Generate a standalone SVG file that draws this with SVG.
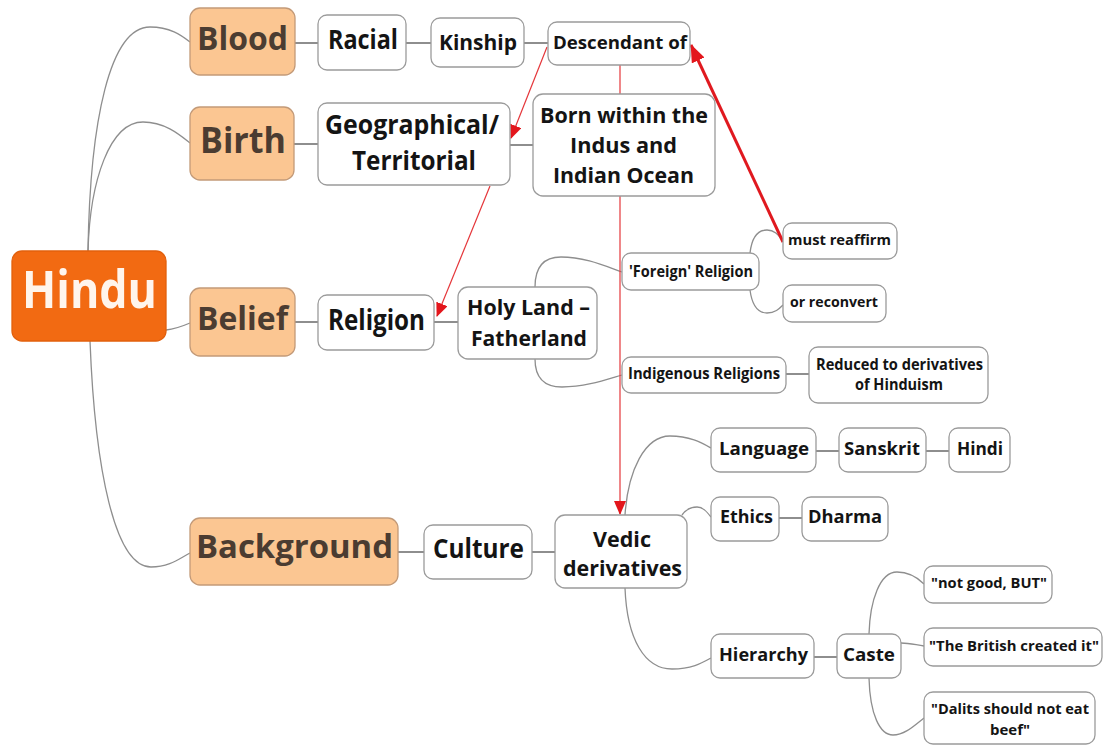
<svg xmlns="http://www.w3.org/2000/svg" width="1104" height="746" viewBox="0 0 1104 746">
<style>
text{font-family:"Open Sans","Noto Sans","Liberation Sans",sans-serif;font-weight:bold;text-anchor:middle}
.n rect{fill:#ffffff;stroke:#9b9b9b;stroke-width:1.3}
.n text{fill:#141414}
.m rect{fill:#fbc692;stroke:#c39a78;stroke-width:1.3}
.m text{fill:#4b3c31}
.c path{fill:none;stroke:#8e8e8e;stroke-width:1.3}
.c line{stroke:#8e8e8e;stroke-width:2}
.c line.r{fill:none;stroke:#e5363a;stroke-width:1.2}
.c line.rt{fill:none;stroke:#e0191f;stroke-width:3}
</style>
<defs>
<marker id="ah" markerUnits="userSpaceOnUse" markerWidth="14" markerHeight="12" refX="13" refY="6" orient="auto"><path d="M0,0 L14,6 L0,12 Z" fill="#e3161c"/></marker>
<marker id="ahb" markerUnits="userSpaceOnUse" markerWidth="18" markerHeight="14" refX="17" refY="7" orient="auto"><path d="M0,0 L18,7 L0,14 Z" fill="#e3161c"/></marker>
</defs>
<rect width="1104" height="746" fill="#ffffff"/>
<g id="connectors" class="c">
<path d="M88,251 C90,120 110,27 150,27 C170,27 181,35 190,42"/>
<path d="M88,251 C90,180 110,122 143,122 C165,122 180,135 190,143"/>
<path d="M166,330 C175,329 183,326 190,323"/>
<path d="M90,341 C95,470 115,567 151,567 C170,567 180,558 190,553"/>
<line x1="295" y1="43" x2="318" y2="43"/>
<line x1="406" y1="43" x2="431" y2="43"/>
<line x1="524" y1="43" x2="548" y2="43"/>
<line x1="294" y1="144" x2="318" y2="144"/>
<line x1="510" y1="145" x2="533" y2="145"/>
<line x1="295" y1="322" x2="318" y2="322"/>
<line x1="434" y1="322" x2="458" y2="322"/>
<path d="M535,287 C535,266 545,257 561,257 C585,257 605,266 622,272"/>
<path d="M535,359 C535,378 545,387 562,387 C585,387 605,380 622,375"/>
<path d="M750,253 C752,236 758,230 767,230 C775,230 779,236 783,241"/>
<path d="M750,290 C752,305 758,313 767,313 C775,313 779,309 783,305"/>
<line x1="786" y1="374" x2="809" y2="374"/>
<line x1="398" y1="552" x2="424" y2="552"/>
<line x1="532" y1="552" x2="555" y2="552"/>
<path d="M625,515 C628,470 645,436 670,436 C690,436 702,443 711,448"/>
<path d="M682,515 C687,508 692,507 697,507 C703,507 707,512 711,517"/>
<path d="M625,588 C627,640 645,669 672,669 C692,669 702,663 711,658"/>
<line x1="816" y1="451" x2="839" y2="451"/>
<line x1="926" y1="451" x2="949" y2="451"/>
<line x1="779" y1="518" x2="802" y2="518"/>
<line x1="814" y1="657" x2="837" y2="657"/>
<path d="M869,634 C870,600 880,572 897,572 C910,572 918,578 924,584"/>
<path d="M901,643 C910,643 916,645 924,646"/>
<path d="M869,678 C870,715 880,735 893,735 C905,735 915,725 924,718"/>
<line class="r" x1="620" y1="65" x2="620" y2="514" marker-end="url(#ah)"/>
<line class="r" x1="547" y1="47" x2="511" y2="138" marker-end="url(#ah)"/>
<line class="r" x1="490" y1="186" x2="437" y2="316" marker-end="url(#ah)"/>
<line class="rt" x1="783" y1="242" x2="691" y2="45" marker-end="url(#ahb)"/>
</g>
<g id="hindu"><rect x="12" y="251" width="154" height="90" rx="10" fill="#f26a12" stroke="#e2600c" stroke-width="1.3"/><text x="89.5" y="308" font-size="52" fill="#fff5ec" textLength="135" lengthAdjust="spacingAndGlyphs">Hindu</text></g>
<g id="blood" class="m"><rect x="190" y="8" width="105" height="67" rx="10"/><text x="242.5" y="50" font-size="33" textLength="91" lengthAdjust="spacingAndGlyphs">Blood</text></g>
<g id="birth" class="m"><rect x="190" y="107" width="104" height="73" rx="10"/><text x="243" y="153" font-size="35" textLength="86" lengthAdjust="spacingAndGlyphs">Birth</text></g>
<g id="belief" class="m"><rect x="190" y="288" width="105" height="68" rx="10"/><text x="242.5" y="330" font-size="33" textLength="91" lengthAdjust="spacingAndGlyphs">Belief</text></g>
<g id="background" class="m"><rect x="190" y="518" width="208" height="67" rx="10"/><text x="294.5" y="558" font-size="33" textLength="197" lengthAdjust="spacingAndGlyphs">Background</text></g>
<g id="racial" class="n"><rect x="318" y="15" width="88" height="55" rx="9"/><text x="363" y="49" font-size="26" textLength="70" lengthAdjust="spacingAndGlyphs">Racial</text></g>
<g id="kinship" class="n"><rect x="431" y="18" width="93" height="49" rx="9"/><text x="478" y="50" font-size="21" textLength="78" lengthAdjust="spacingAndGlyphs">Kinship</text></g>
<g id="descendant" class="n"><rect x="548" y="22" width="142" height="43" rx="9"/><text x="620" y="49" font-size="18" textLength="134" lengthAdjust="spacingAndGlyphs">Descendant of</text></g>
<g id="geo" class="n"><rect x="318" y="103" width="192" height="82" rx="9"/><text x="412" y="134" font-size="27" textLength="174" lengthAdjust="spacingAndGlyphs">Geographical/</text><text x="414" y="170" font-size="27" textLength="124" lengthAdjust="spacingAndGlyphs">Territorial</text></g>
<g id="born" class="n"><rect x="533" y="94" width="182" height="102" rx="10"/><text x="624" y="123" font-size="22" textLength="168" lengthAdjust="spacingAndGlyphs">Born within the</text><text x="623.5" y="153" font-size="22" textLength="107" lengthAdjust="spacingAndGlyphs">Indus and</text><text x="623.5" y="183" font-size="22" textLength="141" lengthAdjust="spacingAndGlyphs">Indian Ocean</text></g>
<g id="religion" class="n"><rect x="318" y="295" width="116" height="55" rx="9"/><text x="376.5" y="330" font-size="28" textLength="97" lengthAdjust="spacingAndGlyphs">Religion</text></g>
<g id="holyland" class="n"><rect x="458" y="287" width="139" height="72" rx="10"/><text x="528.5" y="315" font-size="22" textLength="123" lengthAdjust="spacingAndGlyphs">Holy Land –</text><text x="529" y="346" font-size="22" textLength="116" lengthAdjust="spacingAndGlyphs">Fatherland</text></g>
<g id="foreign" class="n"><rect x="622" y="253" width="137" height="37" rx="9"/><text x="691" y="277" font-size="16" textLength="124" lengthAdjust="spacingAndGlyphs">'Foreign' Religion</text></g>
<g id="reaffirm" class="n"><rect x="783" y="223" width="114" height="36" rx="9"/><text x="839.5" y="245" font-size="15" textLength="103" lengthAdjust="spacingAndGlyphs">must reaffirm</text></g>
<g id="reconvert" class="n"><rect x="783" y="285" width="103" height="37" rx="9"/><text x="834" y="307" font-size="15" textLength="88" lengthAdjust="spacingAndGlyphs">or reconvert</text></g>
<g id="indigenous" class="n"><rect x="622" y="357" width="164" height="36" rx="9"/><text x="704" y="379" font-size="16" textLength="152" lengthAdjust="spacingAndGlyphs">Indigenous Religions</text></g>
<g id="reduced" class="n"><rect x="809" y="347" width="179" height="56" rx="9"/><text x="899.5" y="370" font-size="16" textLength="167" lengthAdjust="spacingAndGlyphs">Reduced to derivatives</text><text x="899" y="390" font-size="16" textLength="88" lengthAdjust="spacingAndGlyphs">of Hinduism</text></g>
<g id="culture" class="n"><rect x="424" y="525" width="108" height="54" rx="9"/><text x="478.5" y="558" font-size="26" textLength="91" lengthAdjust="spacingAndGlyphs">Culture</text></g>
<g id="vedic" class="n"><rect x="555" y="515" width="132" height="73" rx="10"/><text x="622" y="547" font-size="22" textLength="58" lengthAdjust="spacingAndGlyphs">Vedic</text><text x="622.5" y="576" font-size="22" textLength="119" lengthAdjust="spacingAndGlyphs">derivatives</text></g>
<g id="language" class="n"><rect x="711" y="428" width="105" height="44" rx="9"/><text x="764" y="455" font-size="18" textLength="90" lengthAdjust="spacingAndGlyphs">Language</text></g>
<g id="sanskrit" class="n"><rect x="839" y="428" width="87" height="44" rx="9"/><text x="882" y="455" font-size="18" textLength="76" lengthAdjust="spacingAndGlyphs">Sanskrit</text></g>
<g id="hindi" class="n"><rect x="949" y="428" width="61" height="44" rx="9"/><text x="980" y="455" font-size="18" textLength="46" lengthAdjust="spacingAndGlyphs">Hindi</text></g>
<g id="ethics" class="n"><rect x="711" y="497" width="68" height="44" rx="9"/><text x="746.5" y="523" font-size="18" textLength="53" lengthAdjust="spacingAndGlyphs">Ethics</text></g>
<g id="dharma" class="n"><rect x="802" y="497" width="86" height="44" rx="9"/><text x="845" y="523" font-size="18" textLength="74" lengthAdjust="spacingAndGlyphs">Dharma</text></g>
<g id="hierarchy" class="n"><rect x="711" y="634" width="103" height="44" rx="9"/><text x="763.5" y="661" font-size="18" textLength="89" lengthAdjust="spacingAndGlyphs">Hierarchy</text></g>
<g id="caste" class="n"><rect x="837" y="634" width="64" height="44" rx="9"/><text x="869" y="661" font-size="18" textLength="52" lengthAdjust="spacingAndGlyphs">Caste</text></g>
<g id="notgood" class="n"><rect x="924" y="566" width="128" height="37" rx="9"/><text x="989" y="588" font-size="15" textLength="116" lengthAdjust="spacingAndGlyphs">"not good, BUT"</text></g>
<g id="british" class="n"><rect x="924" y="628" width="178" height="38" rx="9"/><text x="1014" y="651" font-size="15" textLength="170" lengthAdjust="spacingAndGlyphs">"The British created it"</text></g>
<g id="dalits" class="n"><rect x="924" y="692" width="171" height="52" rx="9"/><text x="1010" y="714" font-size="15" textLength="158" lengthAdjust="spacingAndGlyphs">"Dalits should not eat</text><text x="1010" y="735" font-size="15" textLength="40" lengthAdjust="spacingAndGlyphs">beef"</text></g>
</svg>
